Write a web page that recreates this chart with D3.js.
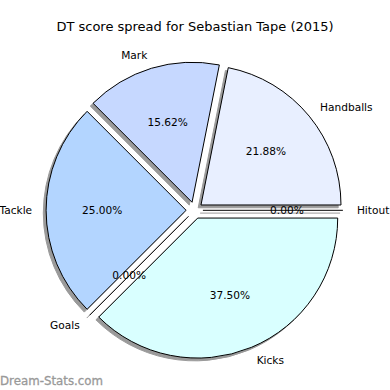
<!DOCTYPE html>
<html>
<head>
<meta charset="utf-8">
<script src="https://cdn.jsdelivr.net/npm/d3@7/dist/d3.min.js"></script>
<style>
  html, body { margin: 0; padding: 0; background: #fff; }
  svg { display: block; font-family: "DejaVu Sans", sans-serif; }
</style>
</head>
<body>
<script>
// Data (counter-clockwise from 3 o'clock, as in the source)
const categories = ["Handballs", "Mark", "Tackle", "Goals", "Kicks", "Hitout"];
const values = [21.88, 15.62, 25.00, 0.00, 37.50, 0.00];
const colors = ["#e8efff", "#c6d8ff", "#b3d5ff", "#d8ffff", "#d9ffff", "#e0f0ff"];
const title = "DT score spread for Sebastian Tape (2015)";
const watermark = "Dream-Stats.com";

const W = 390, H = 390;
const cx = 194.5, cy = 210.3, R = 140;
const explode = 0.06 * R;
const shadowOff = 0.02 * R;

const svg = d3.select("body").append("svg").attr("width", W).attr("height", H);

svg.append("text")
  .attr("x", 195).attr("y", 30.5)
  .attr("text-anchor", "middle")
  .attr("font-size", 13).attr("fill", "#000")
  .text(title);

const data = categories.map((c, i) => ({ cat: c, val: values[i], color: colors[i] }));

// counter-clockwise from east: d3 angle = PI/2 - theta
const pie = d3.pie().value(d => d.val).sort(null)
  .startAngle(Math.PI / 2).endAngle(Math.PI / 2 - 2 * Math.PI);
const arcs = pie(data);
const arc = d3.arc().innerRadius(0).outerRadius(R);

const g = svg.append("g").attr("transform", `translate(${cx},${cy})`);

function mid(a) { return (a.startAngle + a.endAngle) / 2; }
function off(a, r) { const m = mid(a); return [r * Math.sin(m), -r * Math.cos(m)]; }
function wedgePath(a) {
  const s = Math.min(a.startAngle, a.endAngle), e = Math.max(a.startAngle, a.endAngle);
  if (e - s < 1e-9) {
    const p = [R * Math.sin(s), -R * Math.cos(s)];
    return `M0,0L${p[0]},${p[1]}`;
  }
  return arc({ startAngle: s, endAngle: e });
}

// shadows
g.selectAll("path.shadow").data(arcs).join("path")
  .attr("class", "shadow")
  .attr("transform", a => { const o = off(a, explode); return `translate(${o[0] - shadowOff},${o[1] + shadowOff})`; })
  .attr("d", wedgePath)
  .attr("fill", a => a.data.val > 0 ? "#9a9a9a" : "none")
  .attr("stroke", "#9a9a9a")
  .attr("stroke-width", 1);

// wedges
g.selectAll("path.wedge").data(arcs).join("path")
  .attr("class", "wedge")
  .attr("transform", a => { const o = off(a, explode); return `translate(${o[0]},${o[1]})`; })
  .attr("d", wedgePath)
  .attr("fill", a => a.data.val > 0 ? a.data.color : "none")
  .attr("stroke", "#000")
  .attr("stroke-width", 1)
  .attr("stroke-linejoin", "round");

// category labels
g.selectAll("text.lab").data(arcs).join("text")
  .attr("class", "lab")
  .attr("x", a => off(a, explode)[0] + off(a, 1.1 * R)[0])
  .attr("y", a => off(a, explode)[1] + off(a, 1.1 * R)[1])
  .attr("dy", "0.35em")
  .attr("text-anchor", a => off(a, 1)[0] > 1e-6 ? "start" : "end")
  .attr("font-size", 10.6)
  .text(a => a.data.cat);

// percentage labels
const total = d3.sum(values);
g.selectAll("text.pct").data(arcs).join("text")
  .attr("class", "pct")
  .attr("x", a => off(a, explode)[0] + off(a, 0.6 * R)[0])
  .attr("y", a => off(a, explode)[1] + off(a, 0.6 * R)[1])
  .attr("dy", "0.35em")
  .attr("text-anchor", "middle")
  .attr("font-size", 10.6)
  .text(a => (a.data.val / total * 100).toFixed(2) + "%");

svg.append("text")
  .attr("x", 0).attr("y", 385)
  .attr("font-size", 11.8)
  .attr("fill", "#999")
  .attr("stroke", "#999").attr("stroke-width", 0.3)
  .text(watermark);
</script>
</body>
</html>
